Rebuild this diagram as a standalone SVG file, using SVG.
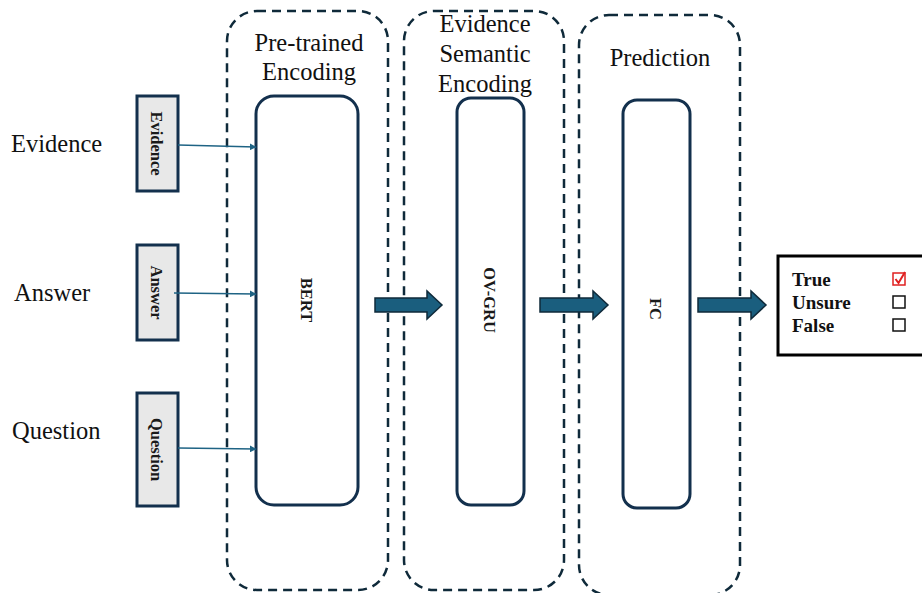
<svg xmlns="http://www.w3.org/2000/svg" width="922" height="593" viewBox="0 0 922 593">
<defs>
<style>
.cont{fill:none;stroke:#0f2a3a;stroke-width:2.5;stroke-dasharray:9 6}
.inner{fill:#fff;stroke:#13304d;stroke-width:3}
.inp{fill:#e8e8e8;stroke:#13304d;stroke-width:3}
.lbl{font-family:"Liberation Serif","Times New Roman",serif;font-size:24.5px;fill:#111}
.vt{font-family:"Liberation Serif","Times New Roman",serif;font-weight:bold;font-size:16.5px;fill:#1a1a1a;text-anchor:middle}
.conn{stroke:#1e6384;stroke-width:1.6;fill:none}
.block{fill:#1a5e7e;stroke:#0f2a3a;stroke-width:1.5}
.out{font-family:"Liberation Serif","Times New Roman",serif;font-weight:bold;font-size:19px;fill:#111}
</style>
<marker id="ah" viewBox="0 0 10 10" refX="9" refY="5" markerWidth="7" markerHeight="7" orient="auto" markerUnits="userSpaceOnUse">
<path d="M0,0 L10,5 L0,10 z" fill="#1e6384"/>
</marker>
</defs>
<rect width="922" height="593" fill="#fff"/>

<g id="stage-pretrained">
<rect class="cont" x="227" y="11" width="161" height="579" rx="30"/>
<text class="lbl" x="309" y="51" text-anchor="middle">Pre-trained</text>
<text class="lbl" x="309" y="80" text-anchor="middle">Encoding</text>
</g>
<g id="stage-semantic">
<rect class="cont" x="404" y="11" width="160" height="579" rx="30"/>
<text class="lbl" x="485" y="32" text-anchor="middle">Evidence</text>
<text class="lbl" x="485" y="62" text-anchor="middle">Semantic</text>
<text class="lbl" x="485" y="92" text-anchor="middle">Encoding</text>
</g>
<g id="stage-prediction">
<rect class="cont" x="579" y="15" width="161" height="580" rx="30"/>
<text class="lbl" x="660" y="66" text-anchor="middle">Prediction</text>
</g>

<g id="label-evidence"><text class="lbl" x="11" y="152">Evidence</text></g>
<g id="label-answer"><text class="lbl" x="14" y="301">Answer</text></g>
<g id="label-question"><text class="lbl" x="12" y="439">Question</text></g>

<g id="input-evidence">
<rect class="inp" x="137" y="96" width="41" height="95"/>
<text class="vt" transform="translate(151,143.5) rotate(90)">Evidence</text>
</g>
<g id="input-answer">
<rect class="inp" x="137" y="245" width="41" height="95"/>
<text class="vt" transform="translate(151,292.5) rotate(90)">Answer</text>
</g>
<g id="input-question">
<rect class="inp" x="137" y="393" width="41" height="113"/>
<text class="vt" transform="translate(151,449.5) rotate(90)">Question</text>
</g>

<g id="node-bert">
<rect class="inner" x="256" y="96" width="102" height="409" rx="18"/>
<text class="vt" transform="translate(301,300) rotate(90)">BERT</text>
</g>
<g id="node-ovgru">
<rect class="inner" x="457" y="98" width="67" height="407" rx="14"/>
<text class="vt" transform="translate(484,300) rotate(90)">OV-GRU</text>
</g>
<g id="node-fc">
<rect class="inner" x="623" y="100" width="67" height="408" rx="14"/>
<text class="vt" transform="translate(650,309) rotate(90)">FC</text>
</g>

<g id="output">
<rect x="778" y="256" width="146" height="99" fill="#fff" stroke="#000" stroke-width="3"/>
<text class="out" x="792" y="286">True</text>
<text class="out" x="792" y="309">Unsure</text>
<text class="out" x="792" y="332">False</text>
<rect x="893" y="273" width="12" height="12" fill="#fff" stroke="#e02020" stroke-width="1.5"/>
<path d="M895.5,279 L898.5,283 L905,272" fill="none" stroke="#e02020" stroke-width="2"/>
<rect x="893" y="296" width="12" height="12" fill="#fff" stroke="#111" stroke-width="1.5"/>
<rect x="893" y="319" width="12" height="12" fill="#fff" stroke="#111" stroke-width="1.5"/>
</g>

<g id="connectors">
<line class="conn" x1="178" y1="145" x2="256" y2="147" marker-end="url(#ah)"/>
<line class="conn" x1="174" y1="293" x2="256" y2="294" marker-end="url(#ah)"/>
<line class="conn" x1="178" y1="448" x2="256" y2="449" marker-end="url(#ah)"/>
<path class="block" d="M375,298 L427,298 L427,291 L442,305 L427,319 L427,312 L375,312 Z"/>
<path class="block" d="M540,298 L593,298 L593,291 L608,305 L593,319 L593,312 L540,312 Z"/>
<path class="block" d="M698,298 L751,298 L751,291 L766,305 L751,319 L751,312 L698,312 Z"/>
</g>
</svg>
